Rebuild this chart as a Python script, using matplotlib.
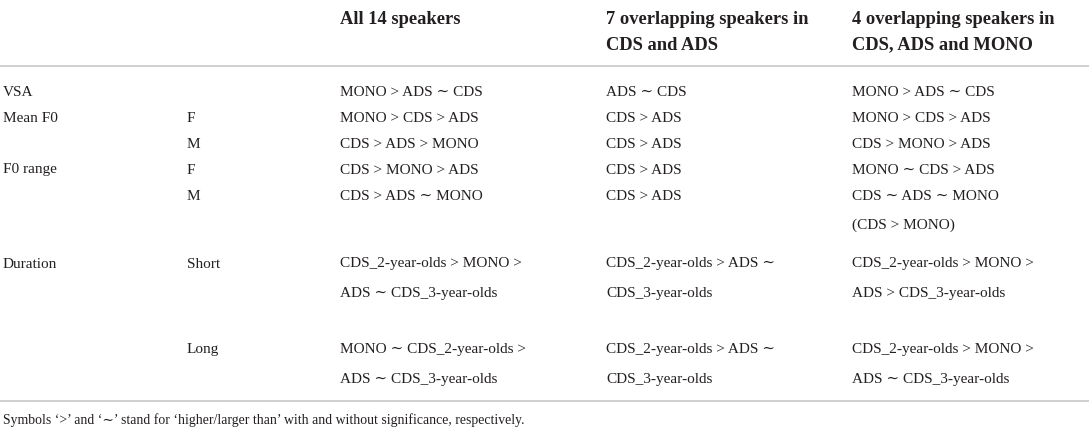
import matplotlib
matplotlib.use('Agg')
import matplotlib.pyplot as plt

plt.rcParams['font.family'] = ['Liberation Serif', 'DejaVu Serif']

headers = ['All 14 speakers',
           '7 overlapping speakers in\nCDS and ADS',
           '4 overlapping speakers in\nCDS, ADS and MONO']

measures = ['VSA', 'Mean F0', '', 'F0 range', '', 'Duration', '']
groups = ['', 'F', 'M', 'F', 'M', 'Short', 'Long']

all_14 = ['MONO > ADS ∼ CDS',
          'MONO > CDS > ADS',
          'CDS > ADS > MONO',
          'CDS > MONO > ADS',
          'CDS > ADS ∼ MONO',
          'CDS_2-year-olds > MONO >\nADS ∼ CDS_3-year-olds',
          'MONO ∼ CDS_2-year-olds >\nADS ∼ CDS_3-year-olds']
overlap_7 = ['ADS ∼ CDS',
             'CDS > ADS',
             'CDS > ADS',
             'CDS > ADS',
             'CDS > ADS',
             'CDS_2-year-olds > ADS ∼\nCDS_3-year-olds',
             'CDS_2-year-olds > ADS ∼\nCDS_3-year-olds']
overlap_4 = ['MONO > ADS ∼ CDS',
             'MONO > CDS > ADS',
             'CDS > MONO > ADS',
             'MONO ∼ CDS > ADS',
             'CDS ∼ ADS ∼ MONO\n(CDS > MONO)',
             'CDS_2-year-olds > MONO >\nADS > CDS_3-year-olds',
             'CDS_2-year-olds > MONO >\nADS ∼ CDS_3-year-olds']

footnote = "Symbols \u2018>\u2019 and \u2018\u223c\u2019 stand for \u2018higher/larger than\u2019 with and without significance, respectively."

W, H = 1089, 429
fig = plt.figure(figsize=(W / 100, H / 100), dpi=100)
ax = fig.add_axes([0, 0, 1, 1])
ax.set_xlim(0, W)
ax.set_ylim(H, 0)
ax.axis('off')

col_x = [3, 187, 340, 606, 852]
row_y = [93, 119, 144, 170, 196, 264, 350]
line_gap = 29
body_fs = 11
txt_col = '#231f20'

# header
for x, h in zip(col_x[2:], headers):
    for k, ln in enumerate(h.split('\n')):
        ax.text(x, 19 + k * 26, ln, fontsize=13.3, fontweight='bold',
                color=txt_col, va='center', ha='left')

# rules
ax.plot([0, W], [66, 66], color='#c8c8c8', lw=1.2)
ax.plot([0, W], [401, 401], color='#c8c8c8', lw=1.2)

# body
for i, y in enumerate(row_y):
    cells = [measures[i], groups[i], all_14[i], overlap_7[i], overlap_4[i]]
    for x, c in zip(col_x, cells):
        for k, ln in enumerate(c.split('\n')):
            ax.text(x, y + k * line_gap, ln,
                    fontsize=body_fs, color=txt_col, va='center', ha='left')

ax.text(3, 420, footnote, fontsize=9.9, color=txt_col, va='center', ha='left')

fig.savefig('out.png', dpi=100)
